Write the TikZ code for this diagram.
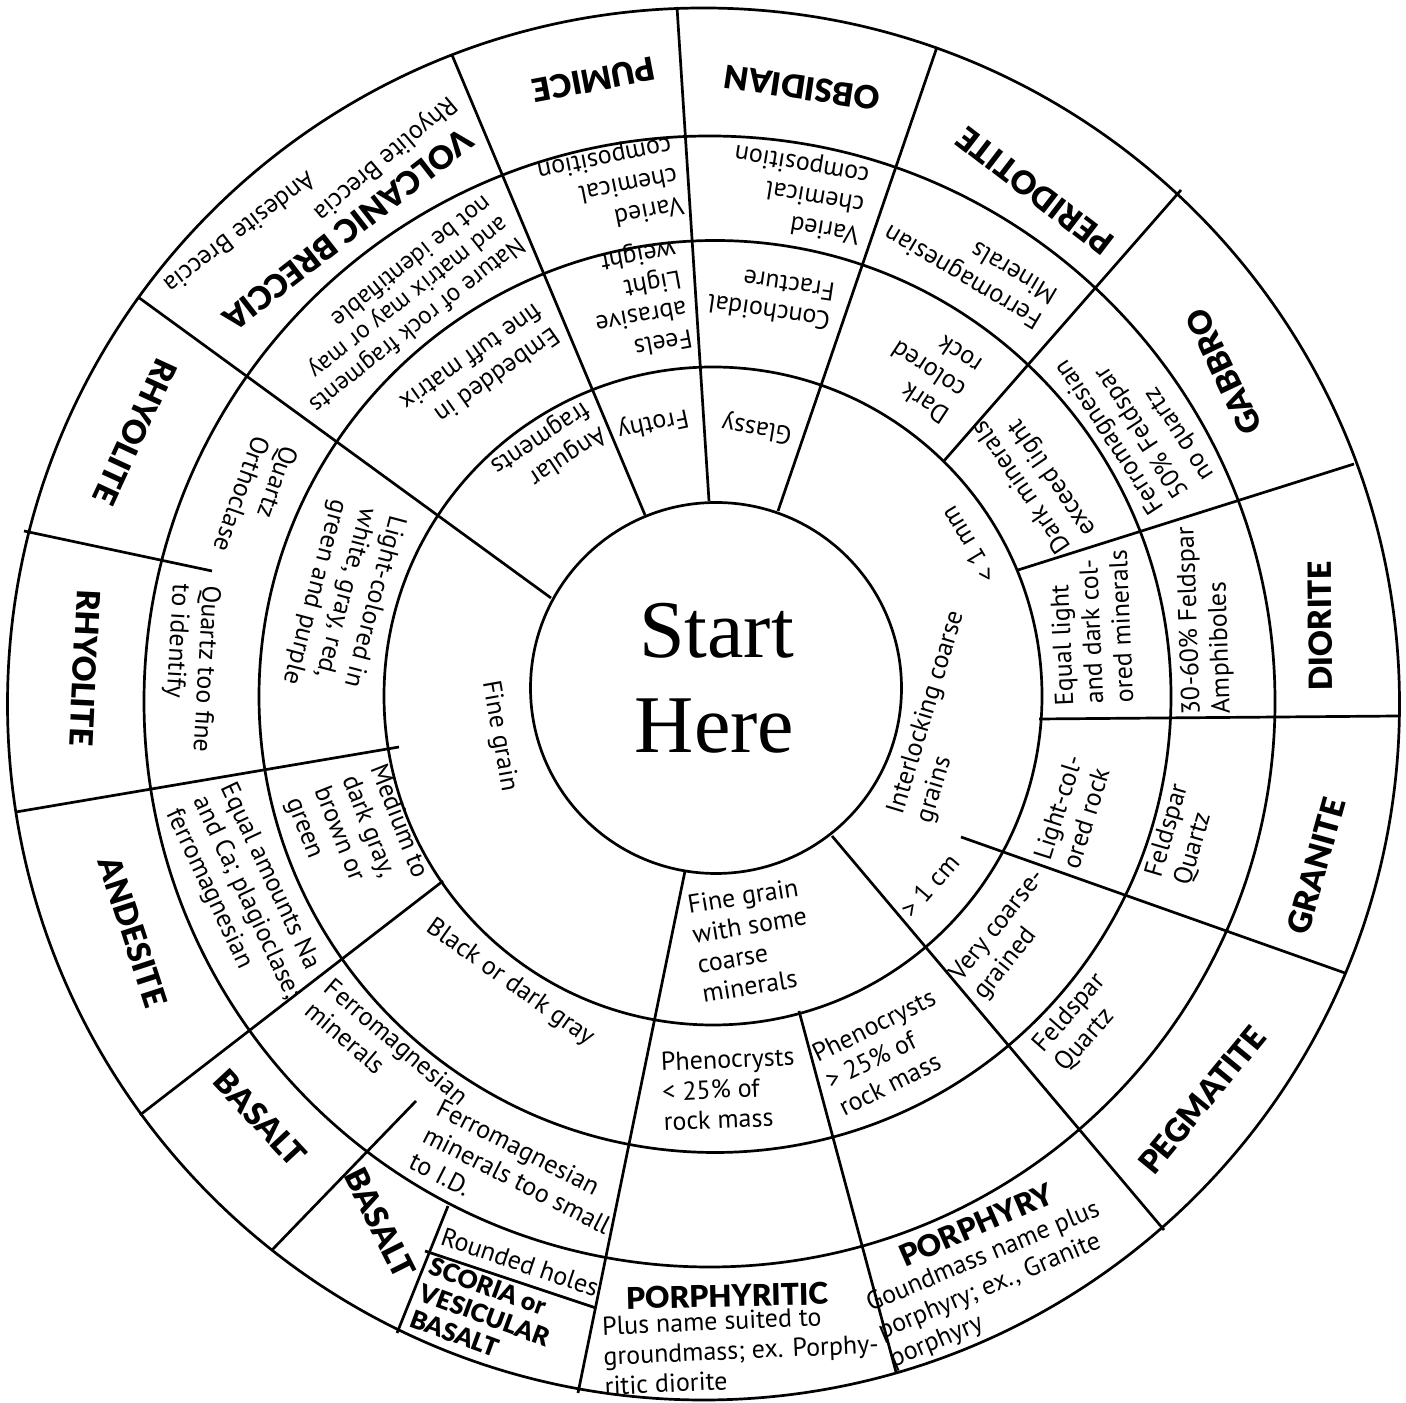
\documentclass[tikz,border=0pt]{standalone}
\usepackage{fontspec}
\setsansfont{PT Sans}
\newfontfamily\startfont{Liberation Serif}
\newfontfamily\heavyfont{Lato Black}
% #1 extra style, #2 name, #3 px, #4 py (pixel coords, y down), #5 text
\newcommand\lab[5][]{%
  \pgfmathsetmacro\labang{atan2(698-(#4),(#3)-712)+90}%
  \node[lbl,#1,rotate=\labang] (#2) at (#3,{1403-(#4)}) {#5};}
\begin{document}
\begin{tikzpicture}[x=1pt,y=1pt,
  ln/.style={line width=2.7pt},
  lbl/.style={font=\sffamily\fontsize{26}{30}\selectfont, align=left, inner sep=0pt},
  lbt/.style={font=\sffamily\fontsize{25}{27}\selectfont},
  nm/.style={font=\heavyfont\fontsize{32}{37}\selectfont, align=center, inner sep=0pt},
  nms/.style={font=\heavyfont\fontsize{30}{34}\selectfont, align=center, inner sep=0pt},
  nmx/.style={font=\heavyfont\fontsize{25}{28}\selectfont, align=left, inner sep=0pt}]
\useasboundingbox (0,0) rectangle (1406,1403);
% rings
\draw[ln] (716,715) circle[radius=185.5pt];
\draw[ln] (713,707) circle[radius=329pt];
\draw[ln] (715,706.5) circle[radius=456pt];
\draw[ln] (709.5,701.5) circle[radius=565.5pt];
\draw[ln] (703.5,699) circle[radius=696pt];
% spokes
\draw[ln] (138,1106) -- (551,805);
\draw[ln] (452,1348) -- (645,888);
\draw[ln] (677,1396) -- (709,902);
\draw[ln] (937,1356) -- (778,892);
\draw[ln] (1181,1213) -- (943,941);
\draw[ln] (1354,939) -- (1018,833);
\draw[ln] (1039,684) -- (1399,687);
\draw[ln] (961,566) -- (1345,430);
\draw[ln] (832,567) -- (1164,173);
\draw[ln] (685,532) -- (578,10);
\draw[ln] (443,522) -- (140,288);
\draw[ln] (399,656) -- (16,591);
\draw[ln] (799,392) -- (896,31);
\draw[ln] (24,872) -- (212,832);
\draw[ln] (416,302) -- (272,153);
\draw[ln] (448,197) -- (397,70);
\draw[ln] (425,152) -- (596,95);
% centre
\node[font=\startfont\fontsize{82}{95}\selectfont, anchor=base, inner sep=0pt] (start) at (716.5,745) {Start};
\node[font=\startfont\fontsize{82}{95}\selectfont, anchor=base, inner sep=0pt] (here) at (714.5,650) {Here};
% outer ring names
\lab[nm]{pumice}{594}{80}{PUMICE}
\lab[nm]{obsidian}{802}{88}{OBSIDIAN}
\lab[nm,rotate=-5]{peridotite}{1035}{191}{PERIDOTITE}
\lab[nm,rotate=-7]{gabbro}{1224}{372}{GABBRO}
\lab[nm,rotate=-6]{diorite}{1320}{626}{DIORITE}
\lab[nm]{granite}{1316}{866}{GRANITE}
\lab[nm]{pegmatite}{1202}{1100}{PEGMATITE}
\lab[nms,rotate=-3]{porphyry}{976}{1225}{PORPHYRY}
\lab[nms]{porphyritic}{727}{1296}{PORPHYRITIC}
\lab[nm,rotate=-31]{basaltb}{380}{1223}{BASALT}
\lab[nm]{basalta}{260}{1118}{BASALT}
\lab[nm,rotate=-4]{andesite}{133}{932}{ANDESITE}
\lab[nm]{rhyoliteb}{85}{668}{RHYOLITE}
\lab[nm]{rhyolitea}{135}{432}{RHYOLITE}
\lab[nm]{breccia}{348}{230}{VOLCANIC BRECCIA}
\lab[rotate=9]{rhybr}{385}{158}{Rhyolite Breccia}
\lab[rotate=-8]{andbr}{240}{233}{Andesite Breccia}
\lab[nmx]{scoria}{485}{1315}{SCORIA or\\VESICULAR\\BASALT}
\lab{porphyritictxt}{741}{1350}{Plus name suited to\\groundmass; ex. Porphy-\\ritic diorite}
\lab[rotate=-3]{porphyrytxt}{995}{1285}{Goundmass name plus\\porphyry; ex., Granite\\porphyry}
% third ring
\lab[lbt]{nature}{401}{305}{Nature of rock fragments\\and matrix may or may\\not be identifiable}
\lab{variedA}{610}{187}{Varied\\chemical\\composition}
\lab{variedB}{797}{193}{Varied\\chemical\\composition}
\lab{ferroA}{970}{265}{Ferromagnesian\\Minerals}
\lab{ferroB}{1135}{420}{Ferromagnesian\\50\% Feldspar\\no quartz}
\lab[rotate=-7]{feldA}{1205}{620}{30-60\% Feldspar\\Amphiboles}
\lab{feldB}{1182}{835}{Feldspar\\Quartz}
\lab{feldC}{1081}{1023}{Feldspar\\Quartz}
\lab[rotate=-5]{ferroC}{517}{1180}{Ferromagnesian\\minerals too small\\to I.D.}
\lab[rotate=2]{ferroD}{387}{1053}{Ferromagnesian\\minerals}
\lab[rotate=2]{equalNa}{246}{898}{Equal amounts Na\\and Ca; plagioclase;\\ferromagnesian}
\lab{qtzfine}{190}{668}{Quartz too fine\\to identify}
\lab[rotate=4]{qtzorth}{256}{499}{Quartz\\Orthoclase}
\lab{rounded}{520}{1262}{Rounded holes}
% second ring
\lab{embedded}{480}{370}{Embedded in\\fine tuff matrix}
\lab{feels}{638}{300}{Feels\\abrasive\\Light\\weight}
\lab{conch}{771}{298}{Conchoidal\\Fracture}
\lab{darkrock}{928}{370}{Dark\\colored\\rock}
\lab{darkmin}{1035}{478}{Dark minerals\\exceed light}
\lab[rotate=-8]{equallight}{1091}{628}{Equal light\\and dark col-\\ored minerals}
\lab{lightrock}{1072}{812}{Light-col-\\ored rock}
\lab{verycoarse}{1010}{935}{Very coarse-\\grained}
\lab{phenoB}{887}{1052}{Phenocrysts\\> 25\% of\\rock mass}
\lab{phenoA}{729}{1089}{Phenocrysts\\< 25\% of\\rock mass}
\lab{black}{510}{983}{Black or dark gray}
\lab{medium}{356}{838}{Medium to\\dark gray,\\brown or\\green}
\lab{lightcol}{343}{600}{Light-colored in\\white, gray, red,\\green and purple}
% first ring
\lab{angular}{548}{450}{Angular\\fragments}
\lab{frothy}{653}{423}{Frothy}
\lab{glassy}{757}{428}{Glassy}
\lab{lt1mm}{968}{545}{< 1 mm}
\lab[rotate=-12]{interlock}{941}{717}{Interlocking coarse\\grains}
\lab{gt1cm}{930}{886}{> 1 cm}
\lab{finecoarse}{752}{940}{Fine grain\\with some\\coarse\\minerals}
\lab{finegrain}{499}{736}{Fine grain}
\end{tikzpicture}
\end{document}
